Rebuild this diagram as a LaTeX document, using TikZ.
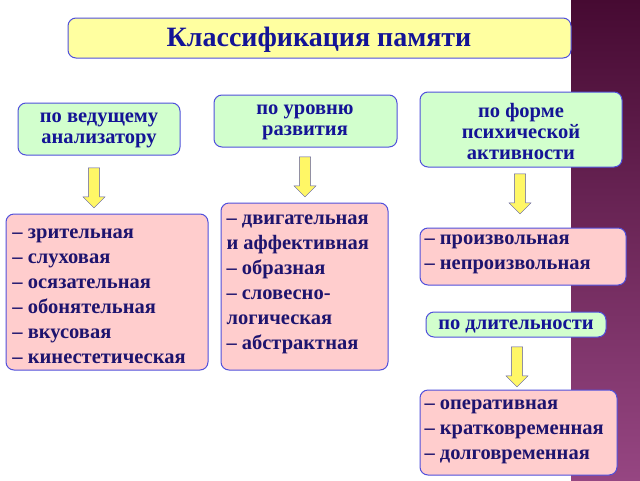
\documentclass[tikz,border=0pt]{standalone}
\usepackage{fontspec}
\setmainfont{Liberation Serif}[BoldFont={Liberation Serif Bold}]
\usetikzlibrary{shapes.arrows}
\definecolor{textblue}{RGB}{20,20,150}
\definecolor{listink}{RGB}{30,20,110}
\definecolor{edgeblue}{RGB}{80,80,220}
\definecolor{titlefill}{RGB}{255,255,160}
\definecolor{headfill}{RGB}{210,255,205}
\definecolor{listfill}{RGB}{255,205,205}
\definecolor{stripa}{RGB}{70,10,50}
\definecolor{stripb}{RGB}{150,70,130}
\tikzset{
  box/.style={draw=edgeblue, line width=1pt, rounded corners=8pt},
  head/.style={box, fill=headfill, text=textblue, font=\bfseries\fontsize{20.5}{21}\selectfont, align=center},
  list/.style={box, fill=listfill, text=listink, font=\bfseries\fontsize{20.5}{25}\selectfont, align=left, anchor=north west, inner sep=0pt},
  down/.style={single arrow, draw=gray!70!blue, fill=yellow!60, shape border rotate=270,
    minimum width=22pt, single arrow head extend=3pt, single arrow tip angle=90, minimum height=40pt, inner sep=3pt}
}
\begin{document}
\begin{tikzpicture}[x=1pt,y=-1pt]
\useasboundingbox (0,0) rectangle (640,480);
% background
\fill[white] (0,0) rectangle (640,480);
\shade[top color=stripa, bottom color=stripb] (571,0) rectangle (640,480);

% title
\draw[box, fill=titlefill] (68,18) rectangle (571,58);
\node[text=textblue, font=\bfseries\fontsize{28}{30}\selectfont] (title) at (319,40) {Классификация памяти};

% headings
\draw[head] (18,103) rectangle (180,155);
\node[head, draw=none, fill=none] (analyzer) at (99,130) {по ведущему\\анализатору};
\draw[head] (214,95) rectangle (397,147);
\node[head, draw=none, fill=none] (level) at (305,122) {по уровню\\развития};
\draw[head] (420,92) rectangle (622,167);
\node[head, draw=none, fill=none] (form) at (521,131) {по форме\\психической\\активности};
\draw[head] (426,312) rectangle (606,337);
\node[head, draw=none, fill=none] (length) at (516,326) {по длительности};

% arrows
\node[down] (a1) at (94,185) {};
\node[down] (a2) at (305,174) {};
\node[down] (a3) at (520,191) {};
\node[down] (a4) at (517,364) {};

% lists
\draw[list] (6,214) rectangle (208,370);
\node[list, draw=none, fill=none] (senses) at (12,228)
  {– зрительная\\– слуховая\\– осязательная\\– обонятельная\\– вкусовая\\– кинестетическая};
\draw[list] (221,203) rectangle (388,370);
\node[list, draw=none, fill=none] (kinds) at (226,214)
  {– двигательная\\и аффективная\\– образная\\– словесно-\\логическая\\– абстрактная};
\draw[list] (420,228) rectangle (626,285);
\node[list, draw=none, fill=none] (will) at (424,234)
  {– произвольная\\– непроизвольная};
\draw[list] (420,390) rectangle (617,475);
\node[list, draw=none, fill=none] (time) at (424,399)
  {– оперативная\\– кратковременная\\– долговременная};
\end{tikzpicture}
\end{document}
